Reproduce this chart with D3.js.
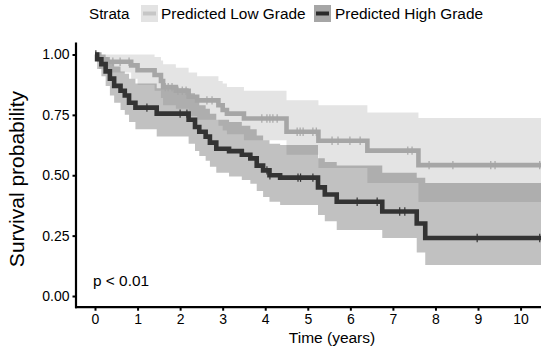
<!DOCTYPE html>
<html><head><meta charset="utf-8">
<script src="https://cdn.jsdelivr.net/npm/d3@7"></script>
<style>body{margin:0;background:#fff}svg{display:block;font-family:"Liberation Sans",Arial,sans-serif}</style>
</head><body>
<svg id="c" width="542" height="347"></svg>
<script>
// ---- data ----
const strata = ["Predicted Low Grade", "Predicted High Grade"];
const lowTime  = [0, 0.1, 0.25, 0.85, 1.0, 1.4, 1.55, 1.6, 1.9, 2.2, 2.4, 2.9, 3.0, 3.1, 3.5, 4.5, 5.25, 6.4, 7.6];
const lowSurv  = [1, 0.98, 0.97, 0.955, 0.935, 0.915, 0.89, 0.865, 0.85, 0.825, 0.81, 0.79, 0.77, 0.755, 0.735, 0.68, 0.643, 0.602, 0.542];
const lowLower = [1, 0.94, 0.925, 0.90, 0.875, 0.85, 0.82, 0.79, 0.775, 0.745, 0.73, 0.705, 0.685, 0.67, 0.645, 0.585, 0.53, 0.468, 0.389];
const lowUpper = [1, 1, 1, 1, 1, 0.99, 0.975, 0.96, 0.945, 0.925, 0.91, 0.89, 0.88, 0.865, 0.85, 0.81, 0.79, 0.76, 0.737];
const lowCensor = [0.31, 0.42, 0.59, 0.8, 1.65, 1.72, 1.81, 1.95, 2.05, 2.14, 2.63, 2.75, 3.92, 4.04, 4.11, 4.18, 4.28, 4.75, 4.82, 4.89, 5.12, 5.2, 5.57, 5.71, 5.99, 6.23, 7.35, 7.45, 7.85, 8.41, 9.3, 9.4, 10.45];

const highTime  = [0, 0.05, 0.15, 0.25, 0.35, 0.45, 0.6, 0.7, 0.8, 0.95, 1.45, 2.2, 2.35, 2.45, 2.6, 2.7, 2.85, 3.15, 3.45, 3.65, 3.8, 3.95, 4.1, 4.35, 5.24, 5.4, 5.68, 6.75, 7.56, 7.76];
const highSurv  = [1, 0.98, 0.96, 0.93, 0.90, 0.87, 0.85, 0.83, 0.80, 0.78, 0.755, 0.73, 0.70, 0.68, 0.66, 0.635, 0.61, 0.60, 0.585, 0.57, 0.54, 0.52, 0.50, 0.49, 0.45, 0.42, 0.39, 0.35, 0.30, 0.24];
const highLower = [1, 0.94, 0.91, 0.87, 0.83, 0.80, 0.77, 0.75, 0.72, 0.69, 0.66, 0.63, 0.60, 0.58, 0.56, 0.535, 0.51, 0.495, 0.48, 0.465, 0.435, 0.41, 0.39, 0.377, 0.335, 0.31, 0.273, 0.24, 0.18, 0.128];
const highUpper = [1, 1, 1, 0.99, 0.97, 0.95, 0.93, 0.92, 0.90, 0.88, 0.86, 0.84, 0.81, 0.79, 0.775, 0.755, 0.73, 0.72, 0.705, 0.69, 0.665, 0.645, 0.63, 0.625, 0.57, 0.555, 0.54, 0.51, 0.49, 0.468];
const highCensor = [0.02, 1.22, 2.0, 2.16, 4.04, 4.11, 4.77, 4.83, 5.12, 6.16, 6.63, 7.16, 7.28, 8.98, 10.45];

const xTicks = [0, 1, 2, 3, 4, 5, 6, 7, 8, 9, 10];
const yTicks = [0, 0.25, 0.5, 0.75, 1];
const tEnd = 10.48;

// ---- chart ----
const svg = d3.select("#c");
const x = d3.scaleLinear().domain([-0.47, 10.48]).range([75, 541]);
const y = d3.scaleLinear().domain([-0.05, 1.05]).range([308.1, 42.4]);

const cols = { low: "#a6a6a6", high: "#333333" };

function series(time, s, lo, hi) {
  const pts = time.map((t, i) => ({ t, s: s[i], lo: lo[i], hi: hi[i] }));
  const last = pts[pts.length - 1];
  pts.push({ t: tEnd, s: last.s, lo: last.lo, hi: last.hi });
  return pts;
}
const low = series(lowTime, lowSurv, lowLower, lowUpper);
const high = series(highTime, highSurv, highLower, highUpper);

svg.append("clipPath").attr("id", "clip").append("rect")
  .attr("x", 76).attr("y", 42).attr("width", 466).attr("height", 266);
const g = svg.append("g").attr("clip-path", "url(#clip)");

const area = d3.area().curve(d3.curveStepAfter)
  .x(d => x(d.t)).y0(d => y(d.lo)).y1(d => y(d.hi));
const line = d3.line().curve(d3.curveStepAfter)
  .x(d => x(d.t)).y(d => y(d.s));

g.append("path").datum(low).attr("d", area).attr("fill", cols.low).attr("fill-opacity", 0.3);
g.append("path").datum(high).attr("d", area).attr("fill", cols.high).attr("fill-opacity", 0.3);

function survAt(pts, t) {
  let v = pts[0].s;
  for (const p of pts) { if (p.t <= t) v = p.s; }
  return v;
}
function drawSeries(pts, censor, col) {
  g.append("path").datum(pts).attr("d", line).attr("fill", "none")
    .attr("stroke", col).attr("stroke-width", 4.6);
  censor.forEach(t => {
    const cx = x(t), cy = y(survAt(pts, t));
    g.append("line").attr("x1", cx).attr("x2", cx).attr("y1", cy - 4.2).attr("y2", cy + 4.2)
      .attr("stroke", col).attr("stroke-width", 1.2);
  });
}
drawSeries(low, lowCensor, cols.low);
drawSeries(high, highCensor, cols.high);

// axes
const ax = svg.append("g");
const xAxis = ax.append("g").attr("transform", "translate(0,307.2)")
  .call(d3.axisBottom(x).tickValues(xTicks).tickSize(3.5).tickPadding(3).tickFormat(d3.format("d")));
const yAxis = ax.append("g").attr("transform", "translate(76,0)")
  .call(d3.axisLeft(y).tickValues(yTicks).tickSize(3.5).tickPadding(3).tickFormat(d3.format(".2f")));
[xAxis, yAxis].forEach(a => {
  a.select(".domain").attr("stroke", "#000").attr("stroke-width", 2.2);
  a.selectAll(".tick line").attr("stroke", "#000").attr("stroke-width", 2);
  a.selectAll(".tick text").attr("fill", "#000").style("font-size", "14px")
    .style("font-family", '"Liberation Sans",Arial,sans-serif');
});
xAxis.select(".domain").attr("d", "M75,0H541");
yAxis.select(".domain").attr("d", "M0,42.4V308.3");

svg.append("text").attr("x", 332).attr("y", 343).attr("text-anchor", "middle")
  .style("font-size", "15.5px").text("Time (years)");
svg.append("text").attr("transform", "translate(24,179) rotate(-90)").attr("text-anchor", "middle")
  .style("font-size", "21px").text("Survival probability");
svg.append("text").attr("x", 93).attr("y", 286).style("font-size", "15.4px").text("p < 0.01");

// legend
const lg = svg.append("g");
lg.append("text").attr("x", 89).attr("y", 18.5).style("font-size", "15.2px").text("Strata");
const keys = [
  { x: 141, fill: "#e3e3e3", line: "#c6c6c6", label: strata[0], tx: 161 },
  { x: 314, fill: "#a6a6a6", line: "#2a2a2a", label: strata[1], tx: 335 }
];
keys.forEach(k => {
  lg.append("rect").attr("x", k.x).attr("y", 5).attr("width", 17).attr("height", 17).attr("fill", k.fill);
  lg.append("line").attr("x1", k.x + 2).attr("x2", k.x + 15).attr("y1", 13.5).attr("y2", 13.5)
    .attr("stroke", k.line).attr("stroke-width", 4);
  lg.append("text").attr("x", k.tx).attr("y", 18.5).style("font-size", "15.4px").text(k.label);
});
</script>
</body></html>
